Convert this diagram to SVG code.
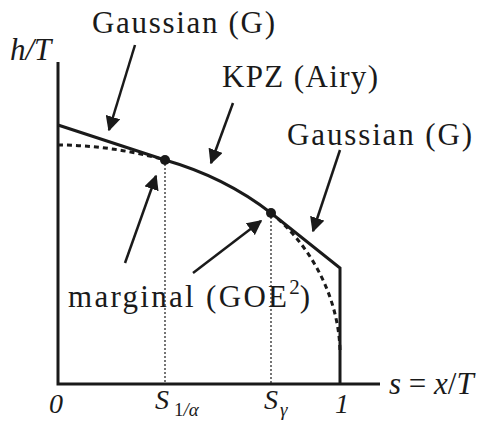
<svg xmlns="http://www.w3.org/2000/svg" width="480" height="421" viewBox="0 0 480 421">
<style>
text{font-family:"Liberation Serif","DejaVu Serif",serif;fill:#1a1a1a}
.t{font-size:31px}
.m{font-size:28px}
.s{font-size:19px}
.i{font-style:italic}
.n{font-style:normal}
.ax{stroke:#1a1a1a;stroke-width:3;fill:none}
.cur{stroke:#1a1a1a;stroke-width:3;fill:none;stroke-linejoin:miter}
.dash{stroke:#1a1a1a;stroke-width:3;fill:none;stroke-dasharray:5 4}
.dot{stroke:#1a1a1a;stroke-width:1.2;fill:none;stroke-dasharray:2 2}
.arr{stroke:#1a1a1a;stroke-width:2.5;fill:none;marker-end:url(#ah)}
</style>
<defs>
<marker id="ah" viewBox="0 0 10 10" refX="9" refY="5" markerWidth="6" markerHeight="6" markerUnits="strokeWidth" orient="auto">
<path d="M0,0 L10,5 L0,10 Z" fill="#1a1a1a"/>
</marker>
</defs>
<rect width="480" height="421" fill="#fff"/>
<g id="axes">
<path class="ax" d="M58,62 L58,384 L380,384"/>
</g>
<g id="curves">
<path class="dot" d="M165,160 L165,384 M271,213 L271,384"/>
<path class="dash" d="M58,145 Q110,145 165,160"/>
<path class="dash" d="M271,213 C305,240 338,290 340,350"/>
<path class="cur" d="M58,125 L165,160 C200,170 235,185 271,213 L340,268 L340,384"/>
<circle cx="165" cy="160" r="5" fill="#1a1a1a"/>
<circle cx="271" cy="213" r="5" fill="#1a1a1a"/>
</g>
<g id="connectors">
<path class="arr" d="M135,45 L109,130"/>
<path class="arr" d="M233,103 L211,163"/>
<path class="arr" d="M340,150 L313,231"/>
<path class="arr" d="M125,263 L156,176"/>
<path class="arr" d="M193,273 L261,221"/>
</g>
<g id="labels">
<text class="t" x="92" y="33" textLength="183">Gaussian (G)</text>
<text class="t i" x="10" y="60">h/T</text>
<text class="t" x="222" y="87" textLength="156">KPZ (Airy)</text>
<text class="t" x="287" y="145" textLength="185">Gaussian (G)</text>
<text class="t" x="68" y="307"><tspan textLength="219">marginal (GOE</tspan><tspan font-size="21" style="font-size:21px" dy="-13">2</tspan><tspan dy="13">)</tspan></text>
<text class="m i" x="49" y="413">0</text>
<text class="m i" x="155" y="409">S</text>
<text class="s i" x="174" y="416"><tspan class="n">1</tspan>/α</text>
<text class="m i" x="264" y="409">S</text>
<text class="s i" x="280" y="416">γ</text>
<text class="m i" x="335" y="413">1</text>
<text class="t" x="389" y="394"><tspan class="i">s</tspan> = <tspan class="i">x</tspan>/<tspan class="i">T</tspan></text>
</g>
</svg>
